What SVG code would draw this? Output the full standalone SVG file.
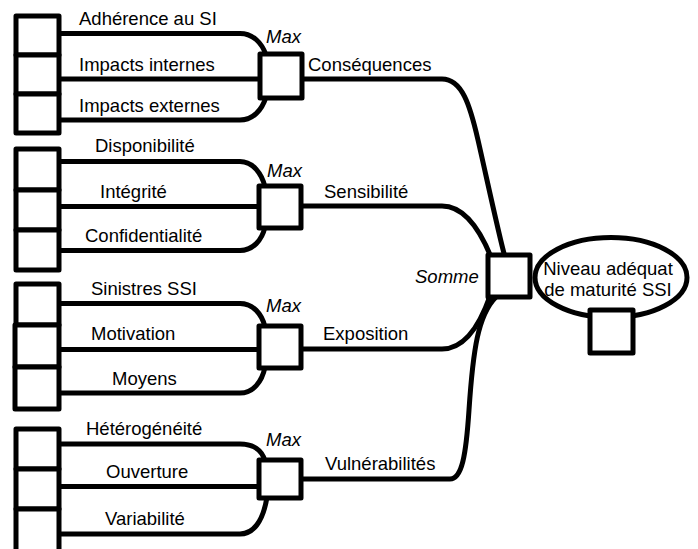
<svg xmlns="http://www.w3.org/2000/svg" width="698" height="549" viewBox="0 0 698 549">
<style>
.box{fill:#fff;stroke:#000;stroke-width:5;stroke-linejoin:round}
.ln{fill:none;stroke:#000;stroke-width:5}
text{font-family:"Liberation Sans",Arial,sans-serif;font-size:18.5px;fill:#000}
.it{font-style:italic}
</style>
<rect width="698" height="549" fill="#fff"/>
<g id="connectors">
<path class="ln" d="M59,33.5 H240 C253,33.5 262,43 266,55"/>
<path class="ln" d="M59,79 H261"/>
<path class="ln" d="M59,120 H240 C253,120 262,110 266,97"/>
<path class="ln" d="M59,161.5 H240 C253,161.5 262,174 265,187"/>
<path class="ln" d="M59,206.5 H261"/>
<path class="ln" d="M59,250.5 H240 C253,250.5 262,240 265,227"/>
<path class="ln" d="M59,303.5 H240 C253,303.5 262,314 265,327"/>
<path class="ln" d="M59,349.5 H261"/>
<path class="ln" d="M59,393 H240 C253,393 262,382 265,367"/>
<path class="ln" d="M59,444 H240 C253,444 262,450 265,461"/>
<path class="ln" d="M59,486.5 H261"/>
<path class="ln" d="M59,534 H240 C253,534 263,522 267,497"/>
<path class="ln" d="M301,79 H442 C462,79 470,105 478,140 S500,240 505,257"/>
<path class="ln" d="M301,206 H442 C462,206 478,225 491,257"/>
<path class="ln" d="M301,349 H442 C462,349 478,330 490,296"/>
<path class="ln" d="M301,479 H450 C462,479 466,455 469,410 C473,350 478,315 496,297"/>
</g>
<g id="g1-inputs">
<rect class="box" x="16" y="16" width="43" height="39"/>
<rect class="box" x="16" y="55" width="43" height="39"/>
<rect class="box" x="16" y="94" width="43" height="39"/>
<text x="79" y="25">Adhérence au SI</text>
<text x="79" y="70.5">Impacts internes</text>
<text x="79" y="111.5">Impacts externes</text>
</g>
<g id="g2-inputs">
<rect class="box" x="16" y="149" width="43" height="41"/>
<rect class="box" x="16" y="190" width="43" height="40"/>
<rect class="box" x="16" y="230" width="43" height="40"/>
<text x="95" y="152">Disponibilité</text>
<text x="100" y="198">Intégrité</text>
<text x="85" y="241.5">Confidentialité</text>
</g>
<g id="g3-inputs">
<rect class="box" x="16" y="284" width="43" height="41"/>
<rect class="box" x="15" y="325" width="44" height="42"/>
<rect class="box" x="15" y="367" width="44" height="42"/>
<text x="91" y="294.5">Sinistres SSI</text>
<text x="91" y="340">Motivation</text>
<text x="112" y="384.5">Moyens</text>
</g>
<g id="g4-inputs">
<rect class="box" x="16" y="429" width="43" height="40"/>
<rect class="box" x="16" y="469" width="43" height="40"/>
<rect class="box" x="16" y="509" width="43" height="45"/>
<text x="86" y="435">Hétérogénéité</text>
<text x="106" y="477.5">Ouverture</text>
<text x="105" y="525">Variabilité</text>
</g>
<g id="max1">
<rect class="box" x="260" y="54" width="42" height="44"/>
<text class="it" x="266" y="42.5">Max</text>
<text x="308" y="71">Conséquences</text>
</g>
<g id="max2">
<rect class="box" x="259" y="186" width="42" height="42"/>
<text class="it" x="267" y="177">Max</text>
<text x="324" y="198">Sensibilité</text>
</g>
<g id="max3">
<rect class="box" x="259" y="326" width="42" height="42"/>
<text class="it" x="266" y="312">Max</text>
<text x="323" y="340">Exposition</text>
</g>
<g id="max4">
<rect class="box" x="259" y="460" width="42" height="38"/>
<text class="it" x="266" y="445.5">Max</text>
<text x="325" y="470">Vulnérabilités</text>
</g>
<g id="somme">
<rect class="box" x="488" y="255" width="42" height="42"/>
<text class="it" x="415" y="282.5">Somme</text>
</g>
<g id="niveau">
<ellipse cx="611" cy="277.5" rx="76" ry="40" fill="#fff" stroke="#000" stroke-width="5"/>
<text x="608" y="275" text-anchor="middle">Niveau adéquat</text>
<text x="608" y="295.5" text-anchor="middle">de maturité SSI</text>
<rect class="box" x="590" y="310" width="43" height="43"/>
</g>
</svg>
